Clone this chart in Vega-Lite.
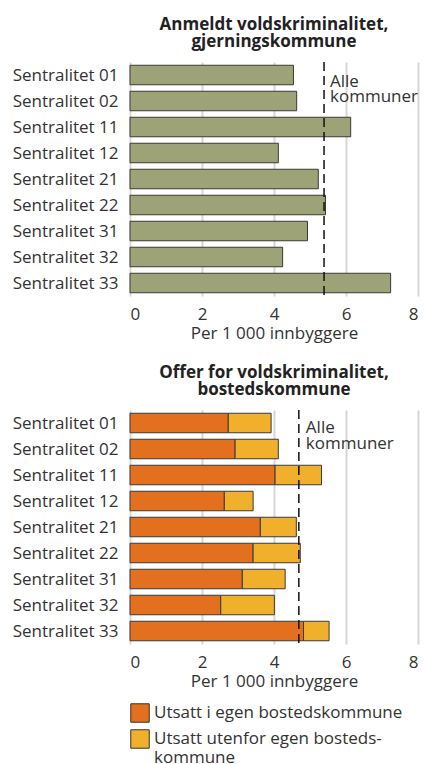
{
  "$schema": "https://vega.github.io/schema/vega-lite/v6.json",
  "padding": {"left": 12, "top": 16, "right": 5, "bottom": 0},
  "background": "white",
  "config": {
    "font": "Open Sans",
    "view": {"stroke": null},
    "axis": {
      "labelFont": "Open Sans",
      "labelFontSize": 17,
      "labelColor": "#333333",
      "titleFont": "Open Sans",
      "titleFontSize": 17,
      "titleFontWeight": "normal",
      "titleColor": "#333333",
      "gridColor": "#d6d6d6",
      "gridWidth": 2,
      "gridOpacity": 1,
      "ticks": false,
      "domain": false
    },
    "title": {
      "font": "Open Sans",
      "fontSize": 17,
      "fontWeight": "bold",
      "color": "#222222",
      "anchor": "middle",
      "frame": "group",
      "lineHeight": 17,
      "offset": 2
    },
    "legend": {
      "labelFont": "Open Sans",
      "labelFontSize": 17,
      "labelColor": "#333333",
      "labelLimit": 400
    }
  },
  "datasets": {
    "anmeldt": [
      {"sentralitet": "Sentralitet 01", "value": 4.54},
      {"sentralitet": "Sentralitet 02", "value": 4.63},
      {"sentralitet": "Sentralitet 11", "value": 6.13},
      {"sentralitet": "Sentralitet 12", "value": 4.12},
      {"sentralitet": "Sentralitet 21", "value": 5.23},
      {"sentralitet": "Sentralitet 22", "value": 5.43},
      {"sentralitet": "Sentralitet 31", "value": 4.93},
      {"sentralitet": "Sentralitet 32", "value": 4.24},
      {"sentralitet": "Sentralitet 33", "value": 7.24}
    ],
    "anmeldt_alle": [{"sentralitet": "Sentralitet 01", "value": 5.39}],
    "offer": [
      {"sentralitet": "Sentralitet 01", "kategori": "Utsatt i egen bostedskommune", "value": 2.73},
      {"sentralitet": "Sentralitet 01", "kategori": "Utsatt utenfor egen bostedskommune", "value": 1.19},
      {"sentralitet": "Sentralitet 02", "kategori": "Utsatt i egen bostedskommune", "value": 2.92},
      {"sentralitet": "Sentralitet 02", "kategori": "Utsatt utenfor egen bostedskommune", "value": 1.2},
      {"sentralitet": "Sentralitet 11", "kategori": "Utsatt i egen bostedskommune", "value": 4.03},
      {"sentralitet": "Sentralitet 11", "kategori": "Utsatt utenfor egen bostedskommune", "value": 1.29},
      {"sentralitet": "Sentralitet 12", "kategori": "Utsatt i egen bostedskommune", "value": 2.62},
      {"sentralitet": "Sentralitet 12", "kategori": "Utsatt utenfor egen bostedskommune", "value": 0.8},
      {"sentralitet": "Sentralitet 21", "kategori": "Utsatt i egen bostedskommune", "value": 3.62},
      {"sentralitet": "Sentralitet 21", "kategori": "Utsatt utenfor egen bostedskommune", "value": 1.0},
      {"sentralitet": "Sentralitet 22", "kategori": "Utsatt i egen bostedskommune", "value": 3.42},
      {"sentralitet": "Sentralitet 22", "kategori": "Utsatt utenfor egen bostedskommune", "value": 1.31},
      {"sentralitet": "Sentralitet 31", "kategori": "Utsatt i egen bostedskommune", "value": 3.12},
      {"sentralitet": "Sentralitet 31", "kategori": "Utsatt utenfor egen bostedskommune", "value": 1.19},
      {"sentralitet": "Sentralitet 32", "kategori": "Utsatt i egen bostedskommune", "value": 2.52},
      {"sentralitet": "Sentralitet 32", "kategori": "Utsatt utenfor egen bostedskommune", "value": 1.49},
      {"sentralitet": "Sentralitet 33", "kategori": "Utsatt i egen bostedskommune", "value": 4.82},
      {"sentralitet": "Sentralitet 33", "kategori": "Utsatt utenfor egen bostedskommune", "value": 0.71}
    ],
    "offer_alle": [{"sentralitet": "Sentralitet 01", "value": 4.69}]
  },
  "vconcat": [
    {
      "width": 288,
      "height": 234,
      "title": {"text": ["Anmeldt voldskriminalitet,", "gjerningskommune"]},
      "layer": [
        {
          "data": {"name": "anmeldt"},
          "mark": {"type": "bar", "color": "#9da377", "stroke": "#3a3a3a", "strokeWidth": 1},
          "encoding": {
            "y": {"field": "sentralitet", "type": "nominal", "title": null,
                  "scale": {"paddingInner": 0.25, "paddingOuter": 0.125},
                  "axis": {"tickBand": "extent", "labelPadding": 12}},
            "x": {"field": "value", "type": "quantitative", "title": "Per 1 000 innbyggere",
                  "scale": {"domain": [0, 8]},
                  "axis": {"values": [0, 2, 4, 6, 8], "labelPadding": 10, "titlePadding": 3}}
          }
        },
        {
          "data": {"name": "anmeldt_alle"},
          "mark": {"type": "rule", "color": "#111111", "strokeWidth": 1.5, "strokeDash": [9, 5]},
          "encoding": {"x": {"field": "value", "type": "quantitative"}}
        },
        {
          "data": {"name": "anmeldt_alle"},
          "mark": {"type": "text", "text": ["Alle", "kommuner"], "align": "left", "baseline": "alphabetic",
                   "dx": 6, "dy": 12, "fontSize": 17, "lineHeight": 15, "color": "#333333"},
          "encoding": {
            "x": {"field": "value", "type": "quantitative"},
            "y": {"field": "sentralitet", "type": "nominal"}
          }
        }
      ]
    },
    {
      "width": 288,
      "height": 234,
      "title": {"text": ["Offer for voldskriminalitet,", "bostedskommune"]},
      "layer": [
        {
          "data": {"name": "offer"},
          "mark": {"type": "bar", "stroke": "#3a3a3a", "strokeWidth": 1},
          "encoding": {
            "y": {"field": "sentralitet", "type": "nominal", "title": null,
                  "scale": {"paddingInner": 0.25, "paddingOuter": 0.125},
                  "axis": {"tickBand": "extent", "labelPadding": 12}},
            "x": {"field": "value", "type": "quantitative", "stack": "zero", "title": "Per 1 000 innbyggere",
                  "scale": {"domain": [0, 8]},
                  "axis": {"values": [0, 2, 4, 6, 8], "labelPadding": 10, "titlePadding": 3}},
            "color": {"field": "kategori", "type": "nominal",
                      "scale": {"domain": ["Utsatt i egen bostedskommune", "Utsatt utenfor egen bostedskommune"],
                                "range": ["#e3701e", "#f0b02b"]},
                      "legend": {"title": null, "orient": "bottom", "direction": "vertical", "offset": 14,
                                 "symbolType": "square", "symbolSize": 340, "symbolStrokeColor": "#333333",
                                 "symbolStrokeWidth": 1, "symbolOpacity": 1, "rowPadding": 2,
                                 "labelExpr": "datum.label == 'Utsatt utenfor egen bostedskommune' ? ['Utsatt utenfor egen bosteds-', 'kommune'] : datum.label",
                                 "labelFontSize": 17}},
            "order": {"field": "kategori", "sort": "ascending"}
          }
        },
        {
          "data": {"name": "offer_alle"},
          "mark": {"type": "rule", "color": "#111111", "strokeWidth": 1.5, "strokeDash": [9, 5]},
          "encoding": {"x": {"field": "value", "type": "quantitative"}}
        },
        {
          "data": {"name": "offer_alle"},
          "mark": {"type": "text", "text": ["Alle", "kommuner"], "align": "left", "baseline": "alphabetic",
                   "dx": 7, "dy": 10, "fontSize": 17, "lineHeight": 16, "color": "#333333"},
          "encoding": {
            "x": {"field": "value", "type": "quantitative"},
            "y": {"field": "sentralitet", "type": "nominal"}
          }
        }
      ]
    }
  ],
  "spacing": 23
}
